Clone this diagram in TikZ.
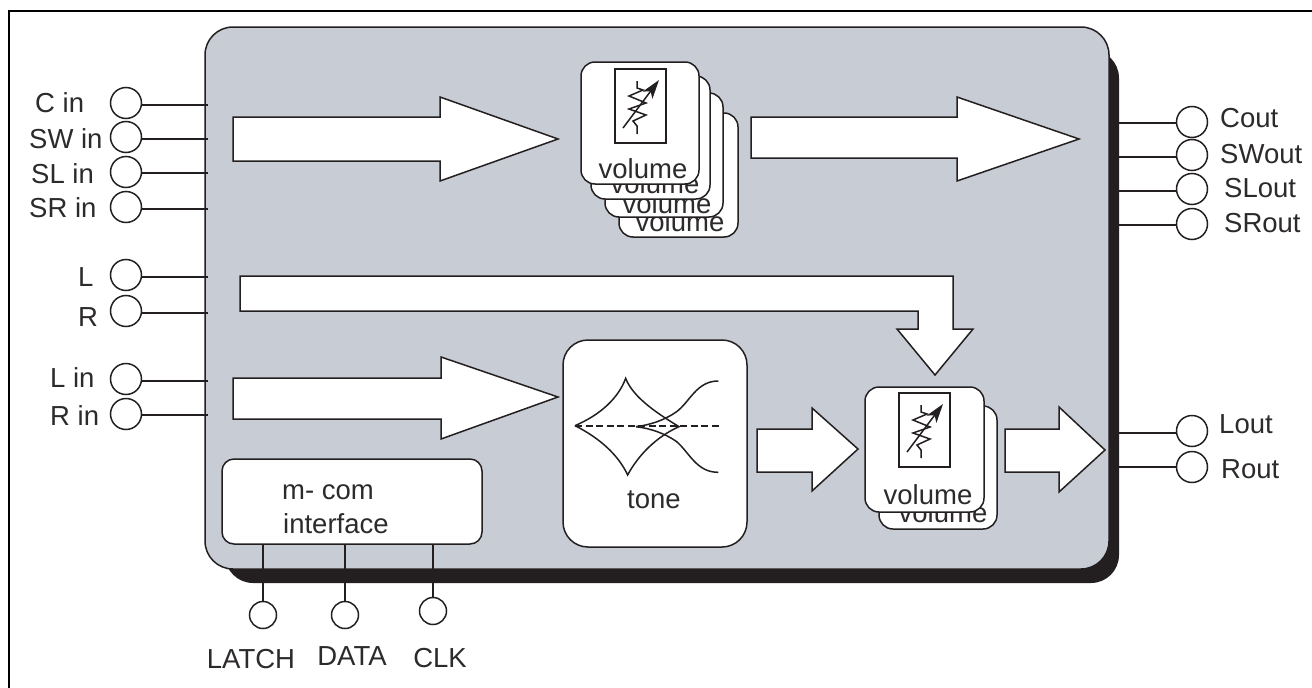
\documentclass[tikz,border=0pt]{standalone}
\usepackage{fontspec}
\setmainfont{Liberation Sans}
\usetikzlibrary{arrows.meta}
\definecolor{panel}{RGB}{200,204,213}
\definecolor{ink}{RGB}{35,31,32}
\definecolor{txt}{RGB}{45,42,43}
\tikzset{
  lbl/.style={inner sep=0pt,anchor=base west,text=txt,font=\fontsize{27.5}{27.5}\selectfont},
  clbl/.style={inner sep=0pt,anchor=base,text=txt,font=\fontsize{27.5}{27.5}\selectfont},
  pin/.style={circle,draw=ink,line width=1.5pt,fill=white,minimum size=31pt,inner sep=0pt},
  spin/.style={circle,draw=ink,line width=1.5pt,fill=white,minimum size=27pt,inner sep=0pt},
  wire/.style={draw=ink,line width=1.5pt},
  bigarrow/.style={draw=ink,line width=1.5pt,fill=white,line join=miter},
  card/.style={draw=ink,line width=1.5pt,fill=white,rounded corners=14pt},
  sym/.style={draw=ink,line width=1.5pt,line join=miter}
}
\begin{document}
\begin{tikzpicture}[x=1pt,y=-1pt]
\useasboundingbox (0,0) rectangle (1312,688);
\fill[white] (0,0) rectangle (1312,688);
\draw[black,line width=2.7pt] (9,688) -- (9,11) -- (1312,11);
% shadow and panel
\fill[ink,rounded corners=28pt] (225,50) rectangle (1119,583);
\draw[draw=ink,fill=panel,line width=1.5pt,rounded corners=28pt] (205,27) rectangle (1109,569);
% input pins
\foreach \n/\cy/\ly in {a/103/105,b/137/139,c/172/173,d/207/209,e/275/277,f/311/313,g/379/381,h/414/415}{
  \node[pin] (in\n) at (126,\cy) {};
  \coordinate (in\n e) at (208,\ly);
  \draw[wire] (in\n.east |- in\n e) -- (in\n e);
}
\node[lbl] (tca) at (35,112) {C in};
\node[lbl] (tcb) at (29,148) {SW in};
\node[lbl] (tcc) at (31,183) {SL in};
\node[lbl] (tcd) at (29,217) {SR in};
\node[lbl] (tce) at (78,286) {L};
\node[lbl] (tcf) at (78,326) {R};
\node[lbl] (tcg) at (50,387) {L in};
\node[lbl] (tch) at (50,425) {R in};
% output pins
\foreach \n/\cy/\ly in {a/122/123,b/155/157,c/189/191,d/224/225,e/431/433,f/467/467}{
  \node[pin] (out\n) at (1192,\cy) {};
  \coordinate (out\n w) at (1119,\ly);
  \draw[wire] (out\n w) -- (out\n.west |- out\n w);
}
\node[lbl] (toa) at (1220,127) {Cout};
\node[lbl] (tob) at (1220,163) {SWout};
\node[lbl] (toc) at (1224,197) {SLout};
\node[lbl] (tod) at (1224,232) {SRout};
\node[lbl] (toe) at (1219,433) {Lout};
\node[lbl] (tof) at (1221,478) {Rout};
% large arrows
\path[bigarrow] (233,117) -- (440,117) -- (440,97) -- (558,139) -- (440,181) -- (440,161) -- (233,161) -- cycle;
\path[bigarrow] (751,117) -- (957,117) -- (957,97) -- (1079,139) -- (957,181) -- (957,158) -- (751,158) -- cycle;
\path[bigarrow] (240,276) -- (953,276) -- (953,329) -- (973,329) -- (935,375) -- (897,329) -- (918,329) -- (918,311) -- (240,311) -- cycle;
\path[bigarrow] (233,378) -- (441,378) -- (441,357) -- (558,397) -- (441,439) -- (441,419) -- (233,419) -- cycle;
\path[bigarrow] (757,429) -- (812,429) -- (812,408) -- (858,449) -- (812,491) -- (812,472) -- (757,472) -- cycle;
\path[bigarrow] (1005,429) -- (1059,429) -- (1059,407) -- (1105,450) -- (1059,492) -- (1059,472) -- (1005,472) -- cycle;
% top volume stack
\draw[card] (619,113) rectangle (738,237);
\node[clbl] (v4) at (680,231) {volume};
\draw[card] (605,93) rectangle (723,217);
\node[clbl] (v3) at (667,213) {volume};
\draw[card] (591,76) rectangle (710,199);
\node[clbl] (v2) at (655,193) {volume};
\draw[card] (581,62) rectangle (699,184);
\node[clbl] (v1) at (643,178) {volume};
% lower volume stack
\draw[card] (879,406) rectangle (997,529);
\node[clbl] (v6) at (943,522) {volume};
\draw[card] (865,387) rectangle (984,512);
\node[clbl] (v5) at (928,504) {volume};
% resistor symbols
\foreach \ox/\oy in {615/69,899/393}{
  \begin{scope}[shift={(\ox,\oy)}]
    \draw[sym,fill=white] (0,0) rectangle (51,74);
    \draw[sym]
      (22,12) -- (22,19) -- (28,21) -- (14,27) -- (31,34) -- (14,40) -- (31,46) -- (18,52) -- (22,57) -- (22,65);
    \draw[sym,-{Stealth[length=19pt,width=12pt,inset=5pt]}] (8,59) -- (44,11);
  \end{scope}
}
% tone
\draw[draw=ink,line width=1.5pt,fill=white,rounded corners=25pt] (563,340) rectangle (747,547);
\begin{scope}[shift={(550,330)},x=0.3333pt,y=-0.3333pt]
  \draw[sym] (75,287) .. controls (150,255) and (205,205) .. (227,145)
     .. controls (250,205) and (330,255) .. (387,290)
     .. controls (320,320) and (265,375) .. (233,435)
     .. controls (205,375) and (150,325) .. (75,287);
  \draw[sym] (258,290) .. controls (300,285) and (345,270) .. (380,245)
     .. controls (420,215) and (440,153) .. (505,153);
  \draw[sym] (258,290) .. controls (300,295) and (345,310) .. (380,335)
     .. controls (420,370) and (440,427) .. (505,427);
  \draw[sym,dashed,dash pattern=on 7pt off 3.5pt] (75,288) -- (510,288);
\end{scope}
\node[clbl] (tone) at (654,508) {tone};
% m-com
\node[draw=ink,line width=1.5pt,fill=white,rounded corners=12pt,minimum width=260pt,minimum height=85pt,inner sep=0pt] (mcom) at (352,501.5) {};
\node[lbl] (m1) at (282,499) {m- com};
\node[lbl] (m2) at (283,533) {interface};
% bottom pins
\node[spin] (pa) at (263,615) {};
\node[spin] (pb) at (345,615) {};
\node[spin] (pc) at (433,611) {};
\draw[wire] (pa.north |- mcom.south) -- (pa.north);
\draw[wire] (pb.north |- mcom.south) -- (pb.north);
\draw[wire] (pc.north |- mcom.south) -- (pc.north);
\node[clbl] (la) at (251,668) {LATCH};
\node[clbl] (lb) at (352,665) {DATA};
\node[clbl] (lc) at (440,667) {CLK};
\end{tikzpicture}
\end{document}
